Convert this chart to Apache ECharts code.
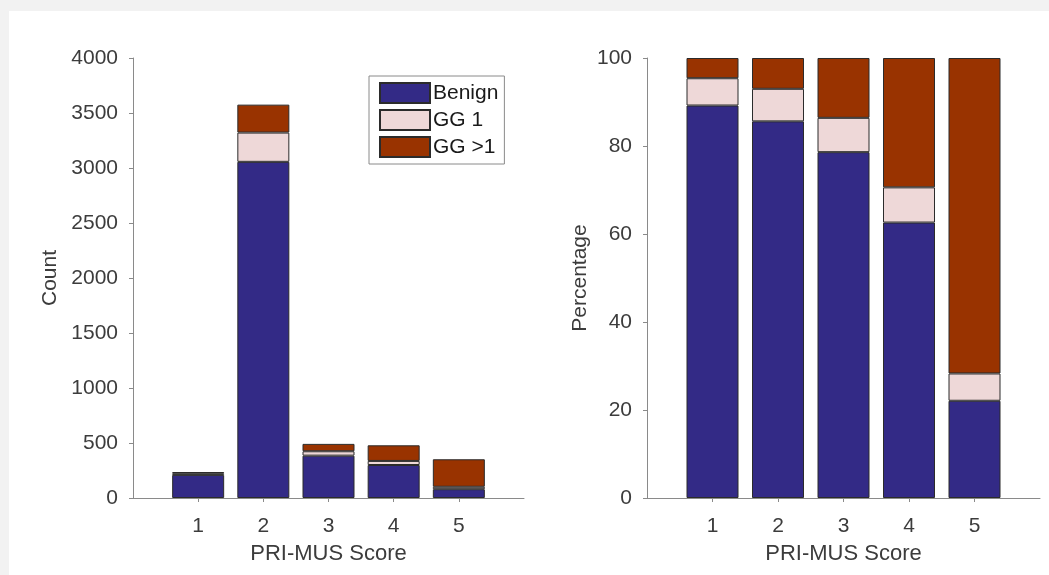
<!DOCTYPE html>
<html>
<head>
<meta charset="utf-8">
<script src="https://cdn.jsdelivr.net/npm/echarts@6/dist/echarts.min.js"></script>
<style>
html,body{margin:0;padding:0;background:#f2f2f2;}
#chart{width:1049px;height:575px;}
</style>
</head>
<body>
<div id="chart"></div>
<script>
// PRI-MUS score categories (axis runs from 0 to 6; the end slots are empty)
const xCategories = ['', '1', '2', '3', '4', '5', ''];
const seriesNames = ['Benign', 'GG 1', 'GG >1'];
// Counts (left panel)
const countBenign = [210, 3056, 385, 300, 80];
const countGG1 = [15, 266, 40, 37, 22];
const countGGgt1 = [11, 254, 67, 142, 250];
// Percentages (right panel)
const pctBenign = [89.2, 85.6, 78.6, 62.6, 22.1];
const pctGG1 = [6.2, 7.4, 7.8, 8.0, 6.2];
const pctGGgt1 = [4.6, 7.0, 13.6, 29.4, 71.7];
const countTicks = {min: 0, max: 4000, interval: 500};
const pctTicks = {min: 0, max: 100, interval: 20};

const colors = ['#332a86', '#eed8d8', '#993300'];
const font = 'Liberation Sans, Arial, sans-serif';
const tickColor = '#3c3c3c';
const axisColor = '#8a8a8a';

function padded(vals) { return [null].concat(vals, [null]); }

function xAxisDef(gridIndex) {
  return {
    type: 'category', gridIndex: gridIndex, data: xCategories, boundaryGap: false,
    name: 'PRI-MUS Score', nameLocation: 'middle', nameGap: 45,
    nameTextStyle: {fontFamily: font, fontSize: 22, color: tickColor},
    axisLine: {show: true, lineStyle: {color: axisColor, width: 1}},
    axisTick: {show: true, length: 4, lineStyle: {color: axisColor},
      interval: function (idx, val) { return val !== ''; }},
    axisLabel: {fontFamily: font, fontSize: 21, color: tickColor, margin: 18, interval: 0},
    splitLine: {show: false}
  };
}
function yAxisDef(gridIndex, ticks, name, gap) {
  return {
    type: 'value', gridIndex: gridIndex, min: ticks.min, max: ticks.max, interval: ticks.interval,
    name: name, nameLocation: 'middle', nameGap: gap,
    nameTextStyle: {fontFamily: font, fontSize: 21, color: tickColor},
    axisLine: {show: true, lineStyle: {color: axisColor, width: 1}},
    axisTick: {show: true, length: 4, lineStyle: {color: axisColor}},
    axisLabel: {fontFamily: font, fontSize: 21, color: tickColor, margin: 15,
      formatter: function (v) { return String(v); }},
    splitLine: {show: false}
  };
}
function barSeries(name, vals, idx, stack) {
  return {
    name: name, type: 'bar', stack: stack,
    xAxisIndex: idx, yAxisIndex: idx,
    data: padded(vals), barWidth: 52,
    itemStyle: {color: colors[seriesNames.indexOf(name)], borderColor: '#2b2b2b', borderWidth: 1},
    emphasis: {disabled: true},
    animation: false
  };
}

const chart = echarts.init(document.getElementById('chart'));
chart.setOption({
  backgroundColor: '#f2f2f2',
  animation: false,
  graphic: [{type: 'rect', z: -10, silent: true, shape: {x: 9, y: 11, width: 1040, height: 564}, style: {fill: '#ffffff'}}],
  grid: [
    {left: 133, top: 58, width: 391, height: 440},
    {left: 647, top: 58, width: 393, height: 440}
  ],
  xAxis: [xAxisDef(0), xAxisDef(1)],
  yAxis: [yAxisDef(0, countTicks, 'Count', 72), yAxisDef(1, pctTicks, 'Percentage', 56)],
  legend: {
    data: seriesNames, orient: 'vertical', left: 369, top: 76,
    itemWidth: 50, itemHeight: 20, itemGap: 5,
    padding: [6, 6, 6, 10],
    backgroundColor: '#ffffff', borderColor: '#8a8a8a', borderWidth: 1, borderRadius: 0,
    icon: 'rect',
    textStyle: {fontFamily: font, fontSize: 21, color: '#1a1a1a', padding: [0, 0, 0, -2]},
    selectedMode: false
  },
  series: [
    barSeries('Benign', countBenign, 0, 'c'),
    barSeries('GG 1', countGG1, 0, 'c'),
    barSeries('GG >1', countGGgt1, 0, 'c'),
    barSeries('Benign', pctBenign, 1, 'p'),
    barSeries('GG 1', pctGG1, 1, 'p'),
    barSeries('GG >1', pctGGgt1, 1, 'p')
  ]
});
</script>
</body>
</html>
